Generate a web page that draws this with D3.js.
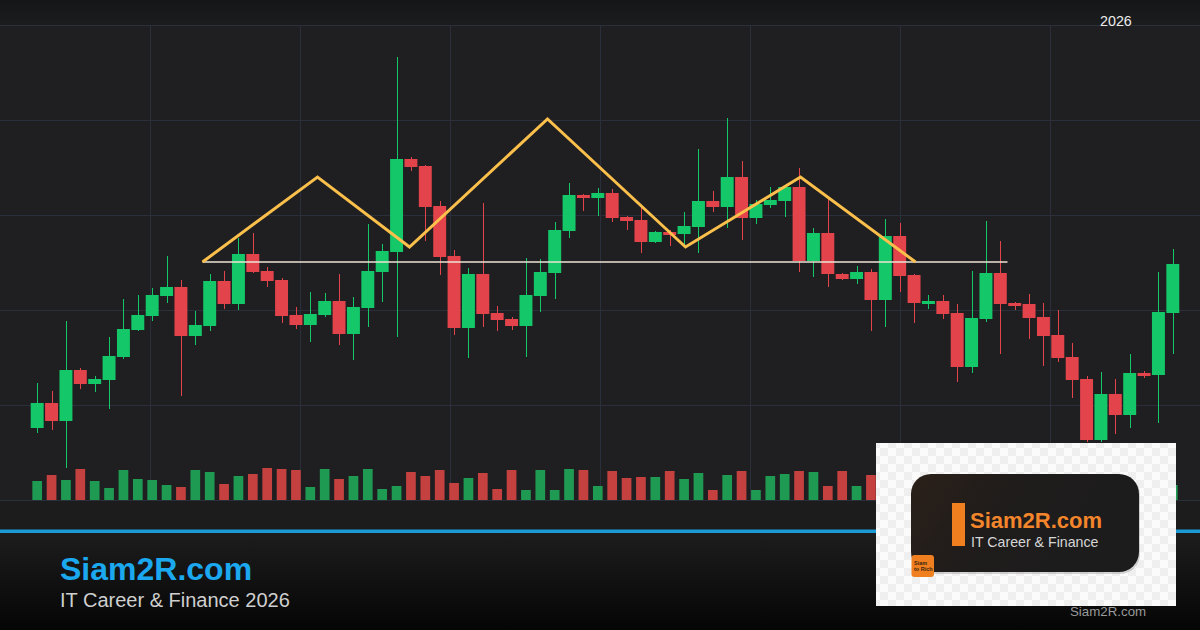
<!DOCTYPE html>
<html><head><meta charset="utf-8">
<script src="https://cdn.jsdelivr.net/npm/d3@7"></script>
<style>html,body{margin:0;padding:0;background:#1f1f21;}svg{display:block;}</style>
</head><body>
<svg id="chart" width="1200" height="630"></svg>
<script>
// ---- data (price units, arbitrary) ----
const opens  = [72,97,79,130,116,120,143,170,184,204,213,164,174,219,196,246,229,220,185,175,185,199,166,192,228,248,341,334,294,244,172,226,187,181,174,204,227,269,305,302,307,283,280,258,268,266,273,299,293,323,282,295,299,313,239,267,226,221,228,200,264,225,196,199,187,133,181,227,197,196,183,165,143,121,60,106,85,127,125,187];
const highs  = [117,109,179,132,124,163,201,205,212,244,220,189,226,229,262,267,233,222,193,208,207,226,203,276,256,443,343,335,299,250,232,297,194,183,242,241,278,317,306,312,311,284,292,269,270,288,351,309,382,339,300,313,315,332,272,301,227,234,231,281,277,226,205,205,196,229,279,259,198,206,197,190,157,124,128,121,146,129,228,251];
const lows   = [67,70,32,111,108,91,141,169,179,197,104,155,169,191,190,227,213,177,171,158,183,155,140,173,198,163,329,259,225,165,142,173,169,170,143,188,201,262,289,284,278,270,247,257,254,254,247,288,272,260,276,292,283,228,223,213,220,216,169,173,208,177,191,181,118,127,178,146,190,161,134,138,102,58,58,66,72,122,77,146];
const closes = [97,79,130,116,121,144,171,185,205,213,164,175,219,196,246,228,219,184,175,186,199,166,193,229,249,341,333,293,243,172,226,186,180,174,205,228,270,305,302,307,282,279,258,268,265,274,299,293,323,282,296,300,313,239,267,226,221,228,200,264,224,197,199,186,133,182,227,196,194,182,164,142,120,60,106,85,127,124,188,236];
const volumes = [19,25,20,31,19,12,30,21,20,15,13,30,28,16,24,26,32,31,30,13,31,21,24,31,11,14,28,24,30,17,22,27,11,30,10,30,10,31,30,14,29,22,23,23,29,21,27,10,25,29,10,24,26,29,28,14,29,14,25,30,27,18,12,20,26,22,28,24,15,19,23,21,25,30,27,18,22,12,29,15];
// head-and-shoulders overlay: [candle index, price]
const patternIdx   = [11.5,19.5,25.9,35.5,45.1,53.1,61.1];
const patternPrice = [238,323,253,381,253,323,238];
const necklineIdx   = [11.5,67.5];
const necklinePrice = [238,238];
const yearLabel = "2026";
const brandTitle = "Siam2R.com";
const brandSub = "IT Career & Finance 2026";
const logoTitle = "Siam2R.com";
const logoSub = "IT Career & Finance";
const watermark = "Siam2R.com";

const svg = d3.select("#chart");
const W = 1200, H = 630;
const defs = svg.append("defs");

const bgGrad = defs.append("linearGradient").attr("id","footGrad").attr("x1",0).attr("y1",0).attr("x2",0).attr("y2",1);
bgGrad.append("stop").attr("offset","0%").attr("stop-color","#1d1d1d");
bgGrad.append("stop").attr("offset","100%").attr("stop-color","#050505");
const topGrad = defs.append("linearGradient").attr("id","topGrad").attr("x1",0).attr("y1",0).attr("x2",0).attr("y2",1);
topGrad.append("stop").attr("offset","0%").attr("stop-color","#151618");
topGrad.append("stop").attr("offset","100%").attr("stop-color","#1b1c1e");
const pat = defs.append("pattern").attr("id","checker").attr("width",16).attr("height",16).attr("patternUnits","userSpaceOnUse");
pat.append("rect").attr("width",16).attr("height",16).attr("fill","#fbfbfb");
pat.append("rect").attr("width",8).attr("height",8).attr("fill","#efefef");
pat.append("rect").attr("x",8).attr("y",8).attr("width",8).attr("height",8).attr("fill","#efefef");
const logoGrad = defs.append("linearGradient").attr("id","logoGrad").attr("x1",0).attr("y1",0).attr("x2",1).attr("y2",0.3);
logoGrad.append("stop").attr("offset","0%").attr("stop-color","#2b2019");
logoGrad.append("stop").attr("offset","45%").attr("stop-color","#1f1c1b");
logoGrad.append("stop").attr("offset","100%").attr("stop-color","#1c1c1d");

// backgrounds
svg.append("rect").attr("width",W).attr("height",H).attr("fill","#1f1f21");
svg.append("rect").attr("width",W).attr("height",25).attr("fill","url(#topGrad)");
svg.append("rect").attr("y",500).attr("width",W).attr("height",30).attr("fill","#1c1c1c");
svg.append("rect").attr("y",533).attr("width",W).attr("height",97).attr("fill","url(#footGrad)");

// scales
const x = d3.scaleBand().domain(d3.range(opens.length)).range([30,1180]).paddingInner(0.1).paddingOuter(0.05);
const bw = x.bandwidth();
const cx = i => x(i) + bw/2;
const xIdx = d3.scaleLinear().domain([0, opens.length-1]).range([cx(0), cx(opens.length-1)]);
const y = d3.scaleLinear().domain([0,475]).range([500,25]);
const yv = d3.scaleLinear().domain([0,40]).range([500,460]);

// grid
const grid = svg.append("g").attr("stroke","#2b2f3b").attr("stroke-width",1);
grid.selectAll("line.h").data(d3.range(0,476,95)).join("line")
  .attr("x1",0).attr("x2",W).attr("y1",d=>Math.round(y(d))+0.5).attr("y2",d=>Math.round(y(d))+0.5);
grid.selectAll("line.v").data(d3.range(150,1200,150)).join("line")
  .attr("x1",d=>d+0.5).attr("x2",d=>d+0.5).attr("y1",25).attr("y2",500);

const data = opens.map((o,i)=>({i,o,h:highs[i],l:lows[i],c:closes[i],v:volumes[i],up:closes[i]>=o}));
const UP="#14c86a", DN="#e3434b", VUP="#1f9a52", VDN="#c44140";

// volume
svg.append("g").selectAll("rect").data(data).join("rect")
  .attr("x",d=>cx(d.i)-bw*0.375).attr("width",bw*0.75)
  .attr("y",d=>yv(d.v)).attr("height",d=>yv(0)-yv(d.v))
  .attr("fill",d=>d.up?VUP:VDN);

// candles
const cg = svg.append("g");
cg.selectAll("line").data(data).join("line")
  .attr("x1",d=>Math.round(cx(d.i))+0.5).attr("x2",d=>Math.round(cx(d.i))+0.5)
  .attr("y1",d=>y(d.h)).attr("y2",d=>y(d.l))
  .attr("stroke",d=>d.up?UP:DN).attr("stroke-width",1);
cg.selectAll("rect").data(data).join("rect")
  .attr("x",d=>x(d.i)).attr("width",bw)
  .attr("y",d=>y(Math.max(d.o,d.c))).attr("height",d=>Math.max(1.5,Math.abs(y(d.o)-y(d.c))))
  .attr("fill",d=>d.up?UP:DN);

// pattern overlay
const line = d3.line().x(d=>xIdx(d[0])).y(d=>y(d[1]));
svg.append("path").datum(necklineIdx.map((v,i)=>[v,necklinePrice[i]]))
  .attr("d",line).attr("fill","none").attr("stroke","#ece4d6").attr("stroke-width",1.4);
svg.append("path").datum(patternIdx.map((v,i)=>[v,patternPrice[i]]))
  .attr("d",line).attr("fill","none").attr("stroke","#fbbf4b").attr("stroke-width",3).attr("stroke-linejoin","miter");

// top label
svg.append("text").attr("x",1100).attr("y",26).text(yearLabel)
  .attr("font-family","Liberation Sans, Arial, sans-serif").attr("font-size",14.3).attr("fill","#ececec");

// footer
svg.append("rect").attr("y",529.5).attr("width",W).attr("height",3.5).attr("fill","#1b9ad6");
svg.append("text").attr("x",60).attr("y",580).text(brandTitle)
  .attr("font-family","Liberation Sans, Arial, sans-serif").attr("font-weight","bold").attr("font-size",32).attr("fill","#1ba8ee");
svg.append("text").attr("x",60).attr("y",607).text(brandSub)
  .attr("font-family","Liberation Sans, Arial, sans-serif").attr("font-size",20).attr("fill","#cfcfcf");

// logo box
const lg = svg.append("g");
lg.append("rect").attr("x",876).attr("y",443).attr("width",300).attr("height",163).attr("fill","url(#checker)");
lg.append("rect").attr("x",912).attr("y",475).attr("width",228).attr("height",99).attr("rx",20).attr("fill","#8a8a8a").attr("opacity",0.35);
lg.append("rect").attr("x",911).attr("y",474).attr("width",228).attr("height",98).attr("rx",20).attr("fill","url(#logoGrad)");
lg.append("rect").attr("x",952).attr("y",503).attr("width",13).attr("height",43).attr("fill","#f0801f");
lg.append("text").attr("x",970).attr("y",528).text(logoTitle)
  .attr("font-family","Liberation Sans, Arial, sans-serif").attr("font-weight","bold").attr("font-size",22).attr("fill","#f3852b");
lg.append("text").attr("x",971).attr("y",546.5).text(logoSub)
  .attr("font-family","Liberation Sans, Arial, sans-serif").attr("font-size",14.2).attr("fill","#d6d6d6");
lg.append("rect").attr("x",911.5).attr("y",555).attr("width",22.5).attr("height",22).attr("rx",3).attr("fill","#f0801f");
lg.append("text").attr("x",914).attr("y",565).text("Siam").attr("font-family","Liberation Sans, Arial, sans-serif").attr("font-size",5.5).attr("font-weight","bold").attr("fill","#3a2410");
lg.append("text").attr("x",914).attr("y",571).text("to Rich").attr("font-family","Liberation Sans, Arial, sans-serif").attr("font-size",5.5).attr("font-weight","bold").attr("fill","#3a2410");
svg.append("text").attr("x",1070).attr("y",616).text(watermark)
  .attr("font-family","Liberation Sans, Arial, sans-serif").attr("font-size",13.3).attr("fill","#9a9a9a");
</script>
</body></html>
